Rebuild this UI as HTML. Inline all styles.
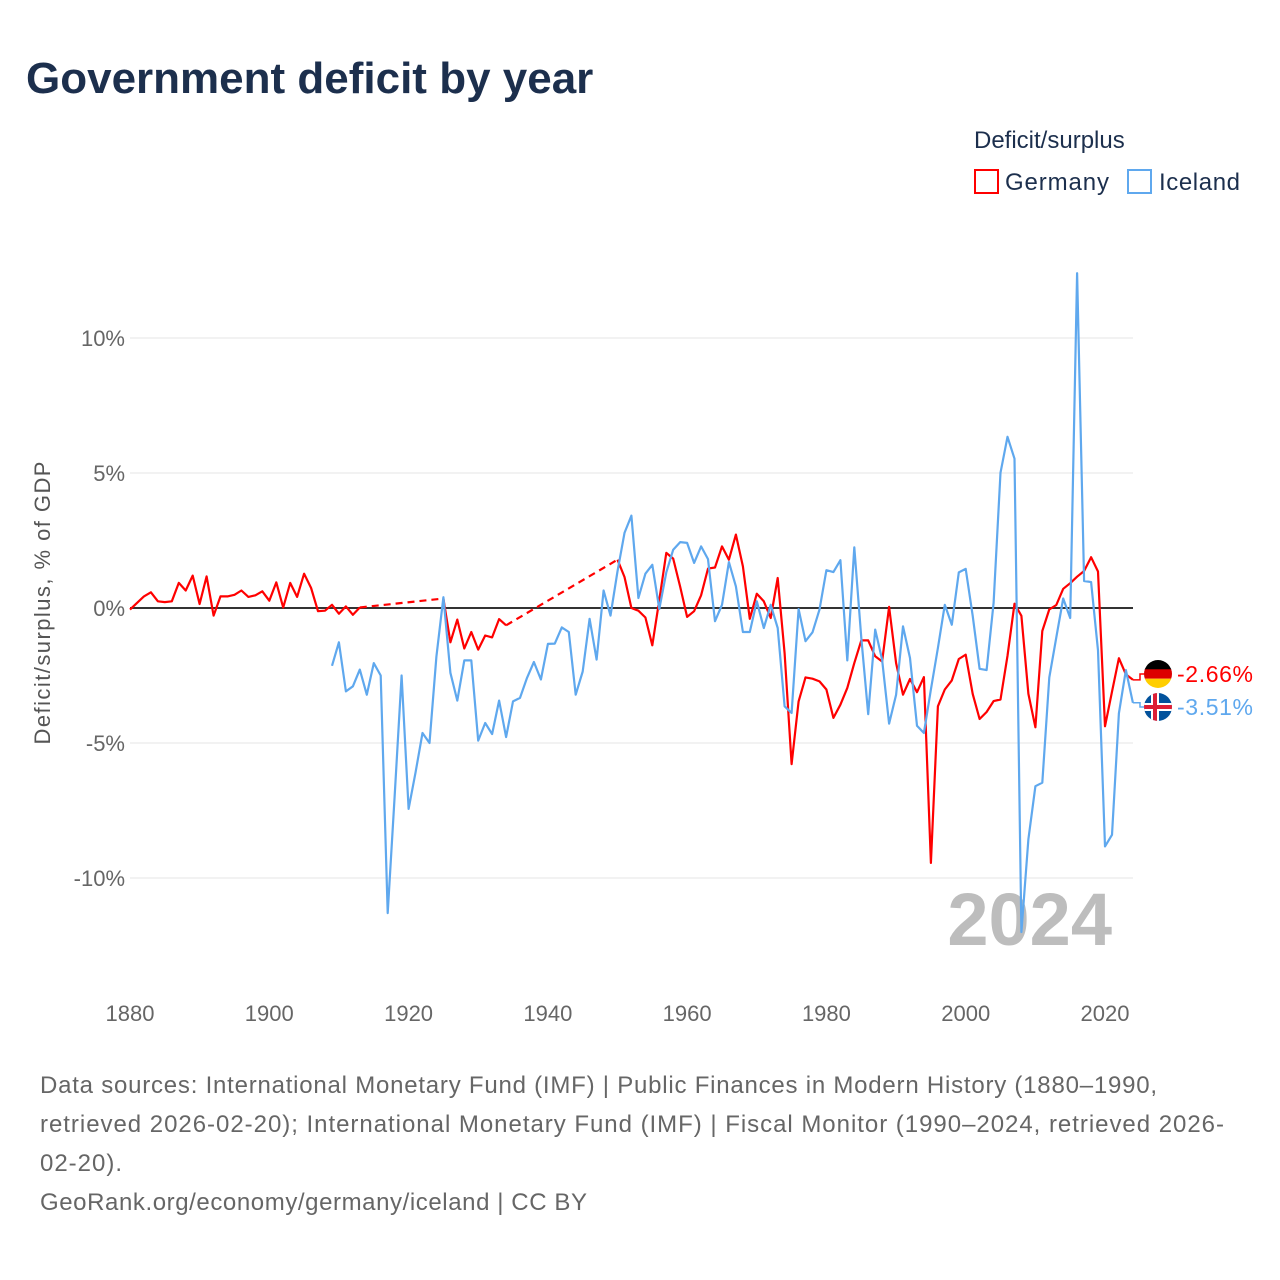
<!DOCTYPE html>
<html><head><meta charset="utf-8"><style>
body{margin:0;background:#fff;}
svg{display:block;font-family:"Liberation Sans",sans-serif;}
</style></head><body>
<svg id="chart" width="1280" height="1280" viewBox="0 0 1280 1280" xmlns="http://www.w3.org/2000/svg">
<rect width="1280" height="1280" fill="#fff"/>
<text x="26" y="93" font-size="44" font-weight="bold" fill="#1c2f4d">Government deficit by year</text>
<text x="974" y="148" font-size="24" fill="#1c2f4d">Deficit/surplus</text>
<rect x="975" y="170" width="23" height="23" fill="none" stroke="#ff0000" stroke-width="2"/>
<text x="1005" y="190" font-size="24" fill="#1c2f4d" textLength="104" lengthAdjust="spacing">Germany</text>
<rect x="1128" y="170" width="23" height="23" fill="none" stroke="#5fa8ee" stroke-width="2"/>
<text x="1159" y="190" font-size="24" fill="#1c2f4d" textLength="81" lengthAdjust="spacing">Iceland</text>
<text transform="translate(50,603) rotate(-90)" text-anchor="middle" font-size="22" fill="#555" textLength="283" lengthAdjust="spacing">Deficit/surplus, % of GDP</text>
<g id="grid"></g>
<text x="1112" y="945" text-anchor="end" font-size="74" font-weight="bold" fill="#bdbdbd">2024</text>
<g id="series"></g>
<g id="labels"></g>
<g font-size="24" fill="#666">
<text x="40" y="1093" textLength="1117" lengthAdjust="spacing">Data sources: International Monetary Fund (IMF) | Public Finances in Modern History (1880–1990,</text>
<text x="40" y="1132" textLength="1184" lengthAdjust="spacing">retrieved 2026-02-20); International Monetary Fund (IMF) | Fiscal Monitor (1990–2024, retrieved 2026-</text>
<text x="40" y="1171" textLength="82" lengthAdjust="spacing">02-20).</text>
<text x="40" y="1210" textLength="547" lengthAdjust="spacing">GeoRank.org/economy/germany/iceland | CC BY</text>
</g>
</svg>
<script>
const yTicks = [10, 5, 0, -5, -10];
const xTicks = [1880, 1900, 1920, 1940, 1960, 1980, 2000, 2020];
const germanyStart = 1880;
const germany = [-0.06,0.19,0.43,0.58,0.25,0.22,0.25,0.93,0.65,1.2,0.15,1.17,-0.28,0.43,0.43,0.49,0.65,0.41,0.47,0.62,0.27,0.95,0.02,0.93,0.41,1.27,0.74,-0.12,-0.1,0.12,-0.21,0.06,-0.25,0.02,
null,null,null,null,null,null,null,null,null,null,null,
0.35,-1.27,-0.43,-1.5,-0.89,-1.54,-1.02,-1.09,-0.41,-0.64,
null,null,null,null,null,null,null,null,null,null,null,null,null,null,null,
1.79,1.15,0,-0.1,-0.35,-1.38,0.3,2.04,1.83,0.78,-0.33,-0.12,0.47,1.46,1.5,2.28,1.79,2.72,1.54,-0.4,
0.53,0.25,-0.37,1.11,-1.67,-5.78,-3.46,-2.57,-2.62,-2.72,-3.02,-4.07,-3.58,-2.96,-2.04,-1.2,-1.2,-1.79,-1.98,0.04,
-2.04,-3.21,-2.63,-3.12,-2.56,-9.44,-3.64,-3.02,-2.68,-1.89,-1.73,-3.18,-4.11,-3.85,-3.45,-3.39,-1.77,0.16,-0.29,-3.18,
-4.42,-0.85,-0.05,0.11,0.71,0.92,1.16,1.37,1.88,1.35,-4.38,-3.1,-1.86,-2.46,-2.66];
const icelandStart = 1909;
const iceland = [-2.14,-1.27,-3.09,-2.9,-2.28,-3.21,-2.04,-2.5,-11.3,-7.0,-2.5,-7.44,-6.1,-4.63,-5.0,-1.8,0.4,
-2.4,-3.43,-1.94,-1.94,-4.91,-4.26,-4.67,-3.43,-4.78,-3.46,-3.33,-2.59,-2.0,-2.65,-1.33,-1.32,-0.72,-0.89,-3.21,-2.35,-0.4,-1.91,0.65,-0.28,
1.36,2.78,3.42,0.37,1.27,1.6,-0.04,1.32,2.16,2.44,2.41,1.67,2.28,1.81,-0.49,0.12,1.7,0.8,-0.89,-0.89,
0.25,-0.74,0.12,-0.74,-3.64,-3.89,-0.04,-1.23,-0.9,-0.06,1.4,1.33,1.77,-1.94,2.25,-1.11,-3.93,-0.8,-1.91,-4.28,
-3.21,-0.68,-1.85,-4.36,-4.63,-3.02,-1.48,0.12,-0.62,1.32,1.45,-0.29,-2.25,-2.3,0.19,5.01,6.34,5.53,-12.0,-8.56,
-6.6,-6.47,-2.57,-1.09,0.35,-0.37,12.4,1.0,0.96,-1.57,-8.83,-8.4,-3.9,-2.3,-3.51];

const NS = "http://www.w3.org/2000/svg";
const X0 = 130, X1 = 1133;
const xScale = yr => 130 + (yr - 1880) * (975 / 140);
const yScale = v => 608 - v * 27;
function mk(tag, attrs, parent){ const e = document.createElementNS(NS, tag); for (const k in attrs) e.setAttribute(k, attrs[k]); parent.appendChild(e); return e; }

const grid = document.getElementById('grid');
yTicks.forEach(t => {
  const l = mk('line', {x1:X0, x2:X1, y1:yScale(t), y2:yScale(t), stroke: t===0 ? '#333' : '#e6e6e6', 'stroke-width': t===0 ? 2 : 1}, grid);
  
  
  const tx = mk('text', {x:125, y:yScale(t)+8, 'text-anchor':'end', 'font-size':22, fill:'#666'}, grid);
  tx.textContent = t + '%';
  
  
});
xTicks.forEach(t => {
  const tx = mk('text', {x:xScale(t), y:1021, 'text-anchor':'middle', 'font-size':22, fill:'#666'}, grid);
  tx.textContent = t;
  
  
});

const series = document.getElementById('series');
function drawSeries(vals, start, color, name){
  let prev = null, d = '', dash = '';
  vals.forEach((v, i) => {
    if (v === null || v === undefined) return;
    const x = xScale(start + i), y = yScale(v);
    if (prev && prev.i === i - 1) d += ` L${x.toFixed(1)},${y.toFixed(1)}`;
    else {
      if (prev) dash += ` M${prev.x.toFixed(1)},${prev.y.toFixed(1)} L${x.toFixed(1)},${y.toFixed(1)}`;
      d += ` M${x.toFixed(1)},${y.toFixed(1)}`;
    }
    prev = {i, x, y};
  });
  const p = mk('path', {d, fill:'none', stroke:color, 'stroke-width':2.2, 'stroke-linejoin':'round'}, series);
  
  
  if (dash) {
    const q = mk('path', {d:dash, fill:'none', stroke:color, 'stroke-width':2.2, 'stroke-dasharray':'7,5'}, series);
    
    
  }
  return prev;
}
const gEnd = drawSeries(germany, germanyStart, '#ff0000', 'germany');
const iEnd = drawSeries(iceland, icelandStart, '#5fa8ee', 'iceland');

const labels = document.getElementById('labels');
function endLabel(end, ly, color, name, txt, flag){
  const c = mk('path', {d:`M${end.x},${end.y} L1140,${end.y} L1140,${ly}  L1146,${ly}`, fill:'none', stroke:color, 'stroke-width':1.5}, labels);
  
  
  const g = mk('g', {}, labels);
  
  
  const cid = 'clip-' + name;
  const cp = mk('clipPath', {id:cid}, g); mk('circle', {cx:1158, cy:ly, r:14}, cp);
  const fg = mk('g', {'clip-path':`url(#${cid})`}, g);
  if (flag === 'de') {
    mk('rect', {x:1144, y:ly-14, width:28, height:10, fill:'#000'}, fg);
    mk('rect', {x:1144, y:ly-4.7, width:28, height:9.4, fill:'#dd0000'}, fg);
    mk('rect', {x:1144, y:ly+4.7, width:28, height:10, fill:'#ffce00'}, fg);
  } else {
    mk('rect', {x:1144, y:ly-14, width:28, height:28, fill:'#02529c'}, fg);
    mk('rect', {x:1144, y:ly-4, width:28, height:8, fill:'#fff'}, fg);
    mk('rect', {x:1151, y:ly-14, width:8, height:28, fill:'#fff'}, fg);
    mk('rect', {x:1144, y:ly-2, width:28, height:4, fill:'#dc1e35'}, fg);
    mk('rect', {x:1153, y:ly-14, width:4, height:28, fill:'#dc1e35'}, fg);
  }
  const t = mk('text', {x:1177, y:ly+8, 'font-size':23, fill:color, textLength:76, lengthAdjust:'spacing'}, labels);
  t.textContent = txt;
  
  
}
endLabel(gEnd, 674, '#ff0000', 'germany', '-2.66%', 'de');
endLabel(iEnd, 707, '#5fa8ee', 'iceland', '-3.51%', 'is');
</script>
</body></html>
